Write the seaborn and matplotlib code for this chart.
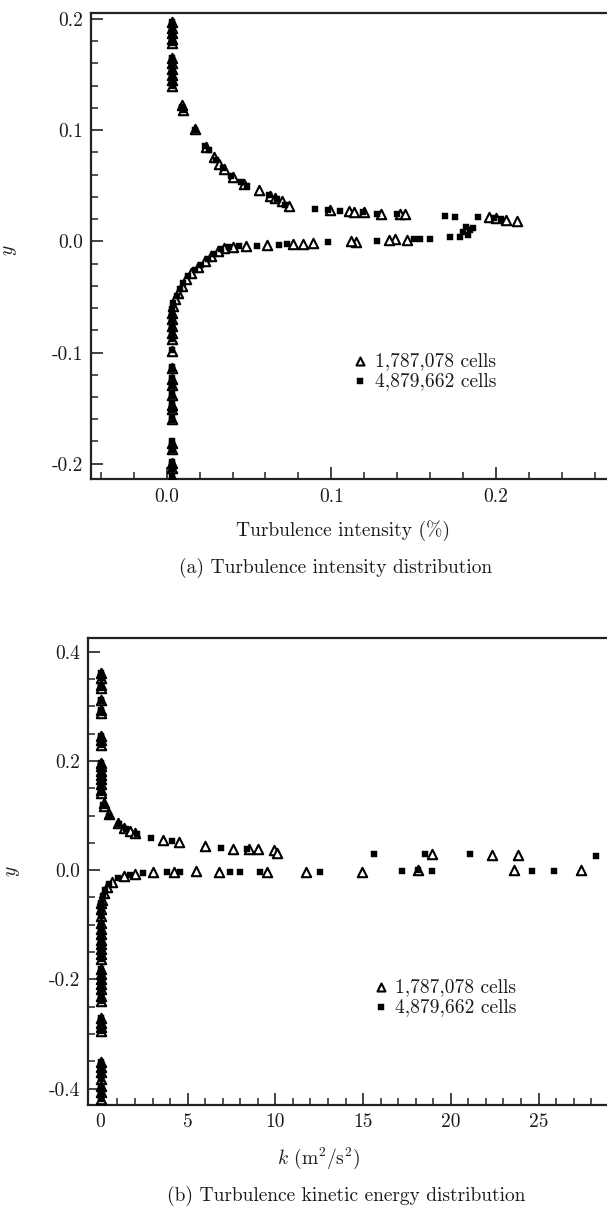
import numpy as np
import pandas as pd
import matplotlib
matplotlib.use("Agg")
import matplotlib.pyplot as plt
import seaborn as sns
from matplotlib.ticker import FixedLocator, FixedFormatter, MultipleLocator

# ---------------- data: panel (a) turbulence intensity, (x, y) pairs ----------------
a_tri = [
    (0.003, 0.197), (0.003, 0.192), (0.003, 0.187), (0.003, 0.182), (0.003, 0.178), (0.003, 0.165),
    (0.003, 0.160), (0.003, 0.155), (0.003, 0.150), (0.003, 0.145), (0.003, 0.140),
    (0.009, 0.123), (0.010, 0.118), (0.017, 0.101), (0.024, 0.085), (0.029, 0.076), (0.032, 0.070),
    (0.035, 0.065), (0.040, 0.058), (0.047, 0.052), (0.056, 0.046), (0.063, 0.041), (0.066, 0.039),
    (0.070, 0.036), (0.074, 0.032), (0.099, 0.028), (0.111, 0.027), (0.114, 0.026), (0.120, 0.026),
    (0.130, 0.025), (0.142, 0.025), (0.145, 0.025), (0.196, 0.022), (0.200, 0.021), (0.206, 0.019),
    (0.213, 0.018),
    (0.146, 0.0015), (0.139, 0.002), (0.135, 0.001), (0.115, -0.0003), (0.112, 0.0), (0.089, -0.0018),
    (0.083, -0.002), (0.077, -0.002), (0.061, -0.0036), (0.048, -0.0045), (0.040, -0.005),
    (0.035, -0.006), (0.031, -0.009), (0.027, -0.013), (0.023, -0.018), (0.019, -0.023),
    (0.015, -0.028), (0.012, -0.034), (0.009, -0.040), (0.007, -0.046), (0.005, -0.052),
    (0.004, -0.058),
    (0.003, -0.064), (0.003, -0.070), (0.003, -0.076), (0.003, -0.082), (0.003, -0.088),
    (0.003, -0.099), (0.003, -0.114), (0.003, -0.124), (0.003, -0.129), (0.003, -0.138),
    (0.003, -0.147), (0.003, -0.151), (0.003, -0.160), (0.003, -0.181), (0.003, -0.187),
    (0.003, -0.199), (0.003, -0.204), (0.003, -0.212),
]
a_sq = [
    (0.003, 0.197), (0.003, 0.195), (0.003, 0.192), (0.003, 0.190), (0.003, 0.187), (0.003, 0.185),
    (0.003, 0.182), (0.003, 0.180), (0.003, 0.178), (0.003, 0.165), (0.003, 0.163), (0.003, 0.160),
    (0.003, 0.158), (0.003, 0.155), (0.003, 0.153), (0.003, 0.150), (0.003, 0.148), (0.003, 0.145),
    (0.003, 0.142), (0.004, 0.140),
    (0.009, 0.121), (0.010, 0.118), (0.017, 0.100), (0.023, 0.086), (0.026, 0.082), (0.030, 0.073),
    (0.034, 0.066), (0.039, 0.059), (0.045, 0.053), (0.049, 0.050), (0.062, 0.042), (0.067, 0.038),
    (0.072, 0.033), (0.090, 0.029), (0.098, 0.028), (0.105, 0.027), (0.119, 0.026), (0.128, 0.025),
    (0.140, 0.025), (0.169, 0.023), (0.175, 0.022), (0.189, 0.022), (0.199, 0.021), (0.203, 0.020),
    (0.186, 0.012), (0.184, 0.010), (0.182, 0.013), (0.180, 0.008), (0.183, 0.006), (0.178, 0.004),
    (0.172, 0.004), (0.160, 0.0024), (0.154, 0.0024), (0.150, 0.002), (0.128, 0.0), (0.098, -0.001),
    (0.073, -0.002), (0.068, -0.003), (0.055, -0.004), (0.044, -0.0045), (0.038, -0.005),
    (0.033, -0.007), (0.029, -0.011), (0.025, -0.016), (0.021, -0.021), (0.017, -0.026),
    (0.013, -0.031), (0.010, -0.037), (0.008, -0.043), (0.006, -0.049), (0.004, -0.055),
    (0.003, -0.061), (0.003, -0.064), (0.003, -0.067), (0.003, -0.070), (0.003, -0.073),
    (0.003, -0.076), (0.003, -0.079), (0.003, -0.082), (0.003, -0.088), (0.003, -0.098),
    (0.003, -0.113), (0.003, -0.115), (0.003, -0.123), (0.003, -0.125), (0.003, -0.128),
    (0.003, -0.130), (0.003, -0.137), (0.003, -0.139), (0.003, -0.146), (0.003, -0.148),
    (0.003, -0.150), (0.003, -0.152), (0.003, -0.159), (0.003, -0.161), (0.003, -0.180),
    (0.003, -0.182), (0.003, -0.186), (0.003, -0.188), (0.003, -0.198), (0.003, -0.200),
    (0.003, -0.203), (0.003, -0.205), (0.003, -0.212),
]

# ---------------- data: panel (b) turbulence kinetic energy, (x, y) pairs ----------------
b_tri = [
    (0.05, 0.360), (0.05, 0.351), (0.05, 0.339), (0.05, 0.333), (0.05, 0.312), (0.05, 0.293),
    (0.05, 0.287), (0.05, 0.245), (0.05, 0.239), (0.05, 0.230), (0.05, 0.196), (0.05, 0.190),
    (0.05, 0.181), (0.05, 0.175), (0.05, 0.166), (0.05, 0.157), (0.05, 0.147), (0.05, 0.141),
    (0.22, 0.123), (0.25, 0.117), (0.49, 0.102), (1.04, 0.087), (1.37, 0.077), (1.70, 0.071),
    (2.0, 0.068), (3.6, 0.055), (4.5, 0.052), (6.0, 0.044), (7.6, 0.039), (8.5, 0.038), (9.0, 0.039),
    (9.9, 0.036), (10.1, 0.032), (18.9, 0.030), (22.35, 0.027), (23.8, 0.027),
    (27.4, 0.0), (23.6, 0.0), (18.15, 0.0), (14.95, -0.003), (11.75, -0.003), (9.54, -0.003),
    (6.78, -0.003), (5.45, -0.002), (4.2, -0.004), (3.0, -0.004), (2.0, -0.0066), (1.37, -0.011),
    (0.71, -0.021), (0.375, -0.030), (0.22, -0.042), (0.09, -0.054), (0.04, -0.072),
    (0.05, -0.060), (0.05, -0.084), (0.05, -0.096), (0.05, -0.108), (0.05, -0.117), (0.05, -0.127),
    (0.05, -0.136), (0.05, -0.145), (0.05, -0.154), (0.05, -0.163), (0.05, -0.181), (0.05, -0.191),
    (0.05, -0.200), (0.05, -0.209), (0.05, -0.218), (0.05, -0.230), (0.05, -0.239), (0.05, -0.270),
    (0.05, -0.279), (0.05, -0.288), (0.05, -0.294), (0.05, -0.352), (0.05, -0.361), (0.05, -0.370),
    (0.05, -0.382), (0.05, -0.395), (0.05, -0.407), (0.05, -0.419),
]
b_sq = [
    (0.05, 0.360), (0.05, 0.355), (0.05, 0.351), (0.05, 0.339), (0.05, 0.336), (0.05, 0.333),
    (0.05, 0.312), (0.05, 0.309), (0.05, 0.293), (0.05, 0.290), (0.05, 0.287), (0.05, 0.245),
    (0.05, 0.242), (0.05, 0.239), (0.05, 0.233), (0.05, 0.230), (0.05, 0.196), (0.05, 0.193),
    (0.05, 0.190), (0.05, 0.181), (0.05, 0.178), (0.05, 0.175), (0.05, 0.166), (0.05, 0.160),
    (0.05, 0.157), (0.05, 0.147), (0.05, 0.144), (0.05, 0.141),
    (0.20, 0.120), (0.25, 0.117), (0.50, 0.100), (1.1, 0.085), (1.5, 0.075), (2.1, 0.066),
    (2.9, 0.059), (4.1, 0.054), (6.9, 0.041), (8.4, 0.038), (15.6, 0.029), (18.5, 0.029),
    (21.1, 0.029), (28.3, 0.026),
    (25.9, -0.001), (24.6, -0.001), (18.9, -0.001), (18.15, 0.0), (17.2, -0.001), (12.57, -0.003),
    (9.1, -0.003), (8.0, -0.003), (7.44, -0.003), (4.57, -0.003), (3.8, -0.004), (2.47, -0.005),
    (1.7, -0.0085), (1.04, -0.0145), (0.5, -0.025), (0.28, -0.036), (0.15, -0.048), (0.06, -0.062),
    (0.05, -0.060), (0.06, -0.072), (0.08, -0.078), (0.05, -0.084), (0.05, -0.096), (0.08, -0.102),
    (0.05, -0.108), (0.05, -0.117), (0.05, -0.127), (0.08, -0.131), (0.05, -0.136), (0.05, -0.145),
    (0.08, -0.150), (0.05, -0.154), (0.05, -0.163), (0.05, -0.181), (0.08, -0.186), (0.05, -0.191),
    (0.05, -0.200), (0.08, -0.205), (0.05, -0.209), (0.05, -0.218), (0.08, -0.224), (0.05, -0.230),
    (0.08, -0.235), (0.05, -0.239), (0.05, -0.270), (0.08, -0.275), (0.05, -0.279), (0.05, -0.288),
    (0.08, -0.291), (0.05, -0.294), (0.05, -0.352), (0.08, -0.357), (0.05, -0.361), (0.05, -0.370),
    (0.08, -0.376), (0.05, -0.382), (0.05, -0.395), (0.08, -0.400), (0.05, -0.407), (0.08, -0.414),
    (0.05, -0.419),
]

labels = ["1,787,078 cells", "4,879,662 cells"]

a_xticks = [0.0, 0.1, 0.2]
a_xticklabels = ["0.0", "0.1", "0.2"]
a_yticks = [-0.2, -0.1, 0.0, 0.1, 0.2]
a_yticklabels = ["-0.2", "-0.1", "0.0", "0.1", "0.2"]
b_xticks = [0, 5, 10, 15, 20, 25]
b_xticklabels = ["0", "5", "10", "15", "20", "25"]
b_yticks = [-0.4, -0.2, 0.0, 0.2, 0.4]
b_yticklabels = ["-0.4", "-0.2", "0.0", "0.2", "0.4"]

# ---------------- style ----------------
sns.set_style("ticks")
plt.rcParams["font.family"] = ["cmr10", "DejaVu Serif"]
plt.rcParams["mathtext.fontset"] = "cm"
plt.rcParams["axes.unicode_minus"] = False
plt.rcParams["axes.formatter.use_mathtext"] = True
FS = 14
TXT = "#1a1a1a"

fig = plt.figure(figsize=(6.07, 12.07), dpi=100)
ax_a = fig.add_axes([0.1499, 0.6029, 0.8501, 0.3866])
ax_b = fig.add_axes([0.1450, 0.0845, 0.8550, 0.3867])


def draw(ax, tri, sq):
    df_t = pd.DataFrame(tri, columns=["x", "y"])
    df_s = pd.DataFrame(sq, columns=["x", "y"])
    sns.scatterplot(data=df_t, x="x", y="y", ax=ax, marker="^", s=46, color="white",
                    edgecolor="black", linewidth=1.5, label=labels[0], zorder=3)
    sns.scatterplot(data=df_s, x="x", y="y", ax=ax, marker="s", s=22, color="black",
                    edgecolor="black", linewidth=0.3, label=labels[1], zorder=4)


draw(ax_a, a_tri, a_sq)
draw(ax_b, b_tri, b_sq)


def style(ax, xlim, ylim, xt, xtl, yt, ytl, xminor, yminor, xlabel, xlab_pos, leg_anchor):
    ax.set_xlim(*xlim)
    ax.set_ylim(*ylim)
    ax.xaxis.set_major_locator(FixedLocator(xt))
    ax.xaxis.set_major_formatter(FixedFormatter(xtl))
    ax.yaxis.set_major_locator(FixedLocator(yt))
    ax.yaxis.set_major_formatter(FixedFormatter(ytl))
    ax.xaxis.set_minor_locator(MultipleLocator(xminor))
    ax.yaxis.set_minor_locator(MultipleLocator(yminor))
    ax.tick_params(which="major", direction="in", length=8.5, width=1.2, labelsize=FS,
                   colors="#222222", labelcolor=TXT, pad=6)
    ax.tick_params(which="minor", direction="in", length=4.8, width=1.1, colors="#222222")
    ax.tick_params(top=False, right=False, which="both")
    for side in ["left", "bottom", "top"]:
        ax.spines[side].set_visible(True)
        ax.spines[side].set_linewidth(1.6)
        ax.spines[side].set_color("#222222")
    ax.spines["right"].set_visible(False)
    ax.set_xlabel(xlabel, fontsize=FS, color=TXT)
    ax.xaxis.set_label_coords(xlab_pos, -0.088)
    ax.set_ylabel(r"$y$", fontsize=FS, color=TXT)
    ax.legend(loc="center left", bbox_to_anchor=leg_anchor, frameon=False, fontsize=FS,
              handlelength=0.6, handletextpad=0.45, labelspacing=0.12, borderpad=0,
              borderaxespad=0, markerscale=0.85)
    for t in ax.get_legend().get_texts():
        t.set_color(TXT)


style(ax_a, (-0.046, 0.2675), (-0.214, 0.2057), a_xticks, a_xticklabels, a_yticks, a_yticklabels,
      0.02, 0.02, "Turbulence intensity (%)", 0.489, (0.51, 0.2323))
style(ax_b, (-0.68, 28.9), (-0.430, 0.4245), b_xticks, b_xticklabels, b_yticks, b_yticklabels,
      1, 0.05, r"$k$ $(\mathrm{m}^2/\mathrm{s}^2)$", 0.445, (0.553, 0.2314))

ax_a.yaxis.set_label_coords(-0.14, 0.49)
ax_b.yaxis.set_label_coords(-0.128, 0.5)

fig.text(0.553, 1 - 568 / 1207, "(a) Turbulence intensity distribution", ha="center", va="center",
         fontsize=FS, color=TXT)
fig.text(0.570, 1 - 1196 / 1207, "(b) Turbulence kinetic energy distribution", ha="center",
         va="center", fontsize=FS, color=TXT)

fig.savefig("out.png", dpi=100)
